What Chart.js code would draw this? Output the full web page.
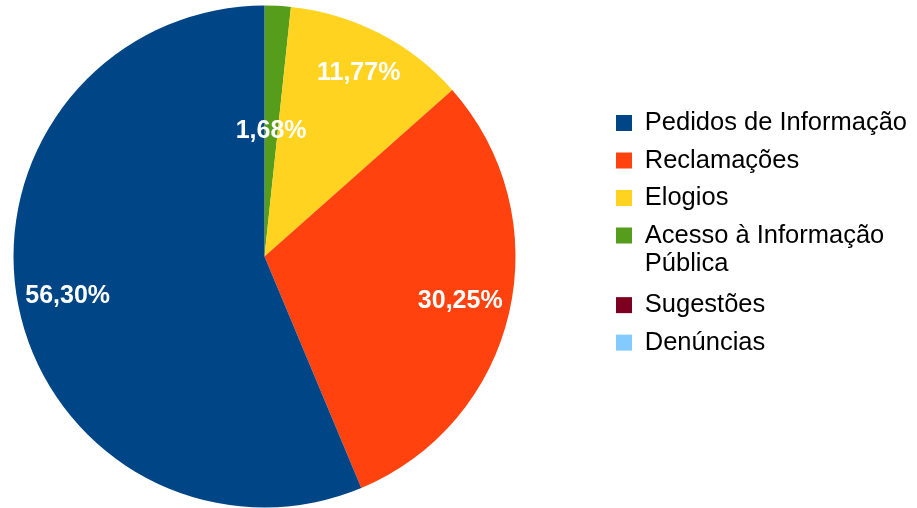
<!DOCTYPE html>
<html>
<head>
<meta charset="utf-8">
<script src="https://cdn.jsdelivr.net/npm/chart.js@4"></script>
<style>
html,body{margin:0;padding:0;background:#fff;overflow:hidden;width:917px;height:508px;}
/* the canvas is a bit wider than the window and shifted left,
   so the pie sits further left than Chart.js would put it */
canvas{display:block;position:absolute;left:-75px;top:0;}
</style>
</head>
<body>
<canvas id="myChart" width="992" height="508"></canvas>
<script>
// legend order, as shown on the right
const categories = ['Pedidos de Informação', 'Reclamações', 'Elogios', ['Acesso à Informação', 'Pública'], 'Sugestões', 'Denúncias']
const shares = [56.30, 30.25, 11.77, 1.68, 0, 0]
const colors = ['#004586', '#ff420e', '#ffd320', '#579d1c', '#7e0021', '#83caff']
// how far out (fraction of radius) each percentage sits
const labelDepth = [0.8, 0.8, 0.82, 0.5, 0.8, 0.8]

// slices run counter-clockwise in the original, so feed them reversed
const rev = arr => arr.slice().reverse()

const percentLabels = {
    id: 'percentLabels',
    afterDatasetsDraw(chart, args, opts) {
        const ctx = chart.ctx
        const meta = chart.getDatasetMeta(0)
        const values = chart.data.datasets[0].data
        ctx.save()
        ctx.font = 'bold 25px "Liberation Sans"'
        ctx.fillStyle = '#fff'
        ctx.textAlign = 'center'
        ctx.textBaseline = 'middle'
        meta.data.forEach((arc, i) => {
            if (!values[i]) return
            const p = arc.getProps(['x', 'y', 'startAngle', 'endAngle', 'outerRadius'], true)
            const mid = (p.startAngle + p.endAngle) / 2
            const r = p.outerRadius * opts.depth[i]
            const text = values[i].toFixed(2).replace('.', ',') + '%'
            ctx.fillText(text, p.x + Math.cos(mid) * r, p.y + Math.sin(mid) * r)
        })
        ctx.restore()
    }
}

Chart.defaults.font.family = '"Liberation Sans", Arial, sans-serif'

const ctx = document.getElementById('myChart').getContext('2d')
new Chart(ctx, {
    type: 'pie',
    data: {
        labels: rev(categories),
        datasets: [{
            data: rev(shares),
            backgroundColor: rev(colors),
            borderWidth: 0
        }]
    },
    options: {
        responsive: false,
        animation: false,
        devicePixelRatio: 1,
        radius: 251,
        layout: {
            padding: { left: 0, right: 0, top: 5, bottom: 0 }
        },
        plugins: {
            legend: {
                position: 'right',
                align: 'start',
                reverse: true,
                title: {
                    display: true,
                    text: ' ',
                    font: { size: 12, lineHeight: 1.2 },
                    padding: { top: 78.85, bottom: 0 }
                },
                labels: {
                    boxWidth: 16,
                    boxHeight: 16,
                    padding: 12,
                    color: '#000',
                    font: { size: 25.5, lineHeight: 1.13 }
                }
            },
            tooltip: { enabled: false },
            percentLabels: { depth: rev(labelDepth) }
        }
    },
    plugins: [percentLabels]
})
</script>
</body>
</html>
